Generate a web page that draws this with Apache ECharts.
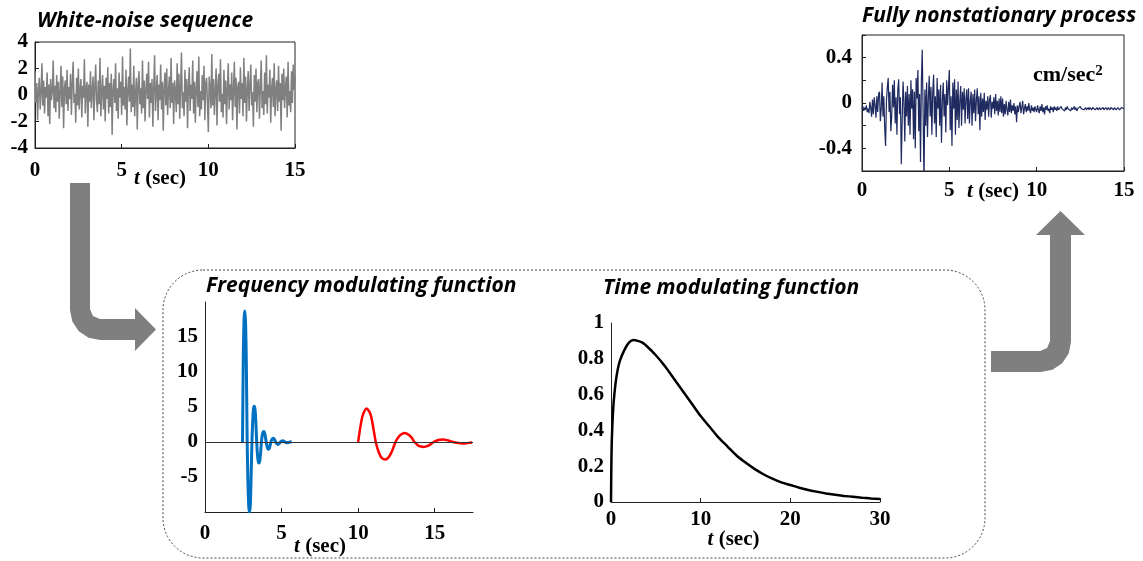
<!DOCTYPE html>
<html>
<head>
<meta charset="utf-8">
<title>Nonstationary process simulation</title>
<script src="https://cdn.jsdelivr.net/npm/echarts/dist/echarts.min.js"></script>
<style>
html, body { margin: 0; padding: 0; background: #fff; }
#main { width: 1143px; height: 561px; }
</style>
</head>
<body>
<div id="main"></div>
<script>
// white-noise sequence, sampled every 0.05 s (0 .. 15 s)
var noiseStep = 0.05;
var noiseValues = [
    1.8, -0.6, 0.9, -1.9, 0.4, 1.3, -1.1, 0.2, 2.4, -0.8, 1.1, -1.4, 0.6, -0.2, 1.7, -1.6, 0.8, -2.2, 1.2, -0.4,
    0.3, 2.6, -1.0, 0.7, -1.3, 1.5, -0.5, 1.0, -1.8, 0.2, 2.2, -0.9, 1.4, -2.5, 0.5, 1.1, -0.7, 1.9, -1.2, 0.6,
    -0.3, 1.6, -1.5, 0.9, 2.5, -0.6, 0.1, -2.1, 1.3, -0.8, 2.0, -1.1, 0.4, 1.2, -1.7, 0.7, -0.2, 2.7, -1.4, 0.5,
    1.0, -2.4, 0.8, -0.5, 1.8, -1.0, 0.3, 1.4, -1.9, 0.6, 2.3, -0.4, -1.3, 1.1, -0.7, 2.8, -1.6, 0.2, 1.5, -1.1,
    0.7, -2.0, 1.3, -0.3, 2.1, -1.4, 0.9, -0.9, 1.6, -3.0, 0.4, 1.2, -0.6, 2.4, -1.2, 0.5, -1.8, 1.7, -0.2, 1.0,
    -1.5, 2.9, -0.8, 0.6, -1.1, 1.9, -2.3, 0.3, 1.4, -0.5, 3.5, -1.3, 0.8, -0.9, 2.2, -1.6, 0.1, 1.3, -2.6, 0.7,
    1.8, -0.7, 0.5, -1.4, 2.6, -1.0, 1.1, -2.0, 0.4, 1.6, -0.3, 2.5, -1.7, 0.9, -0.6, 1.2, -2.4, 0.6, 3.0, -1.2,
    0.2, 1.5, -1.9, 0.8, -0.4, 2.3, -1.1, 1.0, -2.7, 0.5, 1.7, -0.8, 2.0, -1.5, 0.3, 1.4, -1.0, 2.8, -0.6, 0.9,
    -2.2, 1.1, 0.4, -1.3, 2.4, -0.7, 1.6, -1.8, 0.6, 3.2, -1.0, 0.2, -1.6, 1.9, -0.5, 1.2, -2.5, 0.7, 2.1, -1.2,
    0.8, -0.3, 2.6, -1.4, 1.0, -2.1, 0.5, 1.8, -0.9, 2.9, -1.6, 0.3, -1.1, 1.5, -0.4, 2.2, -1.9, 0.9, 1.3, -0.6,
    -2.8, 1.4, 0.6, -1.0, 3.1, -0.8, 1.2, -1.5, 0.4, 2.0, -2.3, 0.7, 1.6, -0.5, 2.7, -1.3, 0.1, -1.7, 1.9, -0.7,
    1.1, -2.2, 0.5, 2.4, -1.1, 0.8, -0.4, 1.7, -1.9, 0.3, 2.5, -0.9, 1.3, -2.6, 0.6, 1.0, -1.4, 2.1, -0.3, 0.9,
    -1.6, 2.8, -0.6, 1.4, -2.0, 0.4, 1.8, -1.2, 0.7, 2.3, -0.8, 0.2, -2.4, 1.5, -0.5, 2.0, -1.3, 0.9, 1.2, -1.8,
    0.6, 2.6, -1.0, 0.3, -1.5, 1.7, -0.7, 3.0, -1.4, 0.8, -0.2, 1.9, -2.1, 0.5, 1.3, -0.9, 2.4, -1.6, 0.4, 1.1,
    -1.2, 2.2, -0.5, 0.9, -2.7, 1.6, -0.4, 2.0, -1.0, 0.6, 1.4, -1.7, 2.5, -0.8, 0.3, -1.3, 1.8, -0.6, 2.3, 0.4, 1.5
];

// fully nonstationary process (cm/sec2), sampled every 0.05 s
var accStep = 0.05;
var accValues = [
    -0.05, -0.03, -0.07, -0.04, -0.06, -0.02, -0.08, -0.05, -0.09, 0.01, -0.04, -0.12, 0.03, -0.10, 0.05, -0.02, -0.13, 0.06, -0.08, 0.08,
    0.10, -0.16, -0.05, 0.18, -0.12, 0.06, -0.22, -0.38, 0.02, 0.14, 0.22, -0.08, 0.10, -0.25, -0.12, 0.16, -0.04, 0.20, -0.18, 0.05,
    -0.28, 0.12, 0.21, -0.10, 0.05, -0.54, -0.15, 0.19, 0.02, -0.34, 0.10, -0.12, 0.15, -0.20, 0.08, -0.28, 0.20, -0.05, 0.12, -0.32,
    0.10, -0.40, 0.22, 0.04, 0.29, -0.25, 0.08, -0.52, 0.20, 0.47, -0.10, -0.72, 0.12, -0.20, 0.18, -0.30, 0.05, 0.24, -0.12, 0.14,
    -0.28, 0.10, 0.25, -0.18, 0.06, -0.30, 0.22, -0.05, 0.12, -0.20, 0.16, -0.35, 0.02, 0.18, -0.12, 0.08, -0.26, 0.20, -0.02, 0.14,
    0.29, -0.24, 0.06, -0.38, 0.18, -0.05, 0.21, -0.28, 0.12, -0.15, 0.19, -0.22, 0.02, 0.15, -0.20, 0.10, -0.06, 0.13, -0.18, 0.04,
    0.12, -0.14, 0.13, -0.18, 0.02, 0.10, -0.20, 0.08, -0.09, 0.12, -0.16, 0.03, 0.13, -0.10, 0.06, -0.24, 0.09, -0.12, 0.04, -0.08,
    0.09, -0.15, 0.02, -0.06, 0.06, -0.12, 0.03, 0.07, -0.13, 0.01, -0.05, 0.05, -0.10, 0.08, -0.07, 0.02, -0.11, 0.04, -0.08, 0.06,
    -0.09, 0.04, -0.12, -0.01, -0.10, 0.02, -0.06, -0.11, 0.01, -0.08, 0.03, -0.09, -0.02, -0.07, 0.00, -0.10, -0.03, -0.17, -0.02, -0.08,
    -0.03, 0.01, -0.09, -0.04, 0.02, -0.10, -0.05, -0.01, -0.08, -0.03, -0.07, 0.00, -0.06, -0.09, -0.02, -0.07, -0.04, -0.08, -0.03, -0.06,
    -0.08, -0.02, -0.06, -0.09, -0.03, -0.07, -0.01, -0.08, -0.04, -0.10, -0.03, -0.06, -0.02, -0.07, -0.05, -0.09, -0.03, -0.06, -0.04, -0.08,
    -0.03, -0.06, -0.04, -0.07, -0.03, -0.06, -0.05, -0.07, -0.03, -0.05, -0.06, -0.04, -0.07, -0.04, -0.06, -0.03, -0.05, -0.06, -0.04, -0.07,
    -0.04, -0.06, -0.05, -0.03, -0.06, -0.04, -0.07, -0.05, -0.04, -0.06, -0.03, -0.05, -0.06, -0.04, -0.06, -0.05, -0.04, -0.06, -0.05, -0.04,
    -0.06, -0.04, -0.05, -0.06, -0.04, -0.05, -0.03, -0.06, -0.05, -0.04, -0.06, -0.05, -0.04, -0.06, -0.05, -0.05, -0.04, -0.06, -0.05, -0.04,
    -0.05, -0.06, -0.04, -0.05, -0.06, -0.04, -0.05, -0.05, -0.06, -0.04, -0.05, -0.06, -0.05, -0.04, -0.05, -0.06, -0.05, -0.04, -0.05, -0.05, -0.05
];
var accYLabels = ['-0.4', '0', '0.4'];

// frequency modulating function, short-period part (blue)
var freqBlueT = [2.45, 2.5, 2.55, 2.6, 2.65, 2.7, 2.755, 2.8, 2.86, 2.91, 2.96, 3.01, 3.065, 3.12, 3.17, 3.22, 3.27, 3.32,
    3.375, 3.43, 3.48, 3.53, 3.58, 3.63, 3.685, 3.74, 3.79, 3.84, 3.89, 3.94, 3.995, 4.05, 4.1, 4.15, 4.2, 4.25,
    4.305, 4.36, 4.41, 4.46, 4.51, 4.56, 4.615, 4.67, 4.72, 4.77, 4.82, 4.87, 4.925, 5.0, 5.08, 5.16, 5.235, 5.31,
    5.39, 5.47, 5.545, 5.66];
var freqBlueV = [0, 12, 17.5, 18.7, 17, 11, 0, -5.5, -9.3, -10, -9, -5, 0, 3.2, 4.8, 5.1, 4.6, 2.8,
    0, -1.9, -2.8, -3.0, -2.6, -1.6, 0, 1.0, 1.4, 1.5, 1.3, 0.8, 0, -0.6, -0.95, -1.05, -0.9, -0.5,
    0, 0.35, 0.5, 0.55, 0.45, 0.25, 0, -0.2, -0.3, -0.35, -0.28, -0.15, 0, 0.12, 0.18, 0.1, 0, -0.08,
    -0.1, -0.05, 0, 0.03];

// frequency modulating function, long-period part (red)
var freqRedT = [10.0, 10.15, 10.3, 10.55, 10.8, 11.0, 11.15, 11.35, 11.55, 11.8, 12.05, 12.25, 12.44, 12.65, 12.85,
    13.05, 13.3, 13.5, 13.68, 13.9, 14.1, 14.3, 14.55, 14.75, 14.93, 15.15, 15.35, 15.55, 15.8, 16.0, 16.2,
    16.45, 16.65, 16.85, 17.1, 17.3, 17.44];
var freqRedV = [0, 2.2, 3.8, 4.8, 4.0, 1.9, 0, -1.5, -2.3, -2.5, -2.0, -1.1, 0, 0.75, 1.15,
    1.3, 1.05, 0.6, 0, -0.45, -0.65, -0.7, -0.55, -0.3, 0, 0.22, 0.32, 0.35, 0.27, 0.14, 0,
    -0.12, -0.18, -0.2, -0.16, -0.1, -0.07];

// time modulating function
var timeModT = [0, 0.05, 0.1, 0.2, 0.3, 0.5, 0.75, 1, 1.5, 2, 2.5, 3, 3.5, 4, 5, 6, 7, 8, 9, 10, 11, 12, 13, 14, 15,
    16, 17, 18, 19, 20, 21, 22, 23, 24, 25, 26, 27, 28, 29, 30];
var timeModV = [0, 0.25, 0.36, 0.48, 0.56, 0.66, 0.74, 0.79, 0.85, 0.89, 0.905, 0.9, 0.89, 0.87, 0.82, 0.76, 0.69,
    0.62, 0.55, 0.48, 0.42, 0.36, 0.31, 0.26, 0.22, 0.185, 0.155, 0.13, 0.11, 0.095, 0.08, 0.067, 0.057, 0.048,
    0.04, 0.034, 0.029, 0.024, 0.02, 0.017];

function zip(ts, vs) {
    return ts.map(function (t, i) { return [t, vs[i]]; });
}
function sampled(step, vs) {
    return vs.map(function (v, i) { return [i * step, v]; });
}

var serif = '"Liberation Serif", "DejaVu Serif", serif';
var numFont = { fontFamily: serif, fontWeight: 'bold', fontSize: 21, color: '#000' };
var titleFont = { fontFamily: 'Open Sans', fontStyle: 'italic', fontWeight: 'bold', fontSize: 21, color: '#000' };

// tick labels drawn as rich text so the serif face is used
function numLabel(v) {
    var s = (Math.round(v * 10) / 10).toString();
    return '{n|' + s + '}';
}

function tName(gap, shift) {
    return {
        name: '{i|t} (sec)',
        nameLocation: 'middle',
        nameGap: gap,
        nameMoveOverlap: false,
        nameTextStyle: {
            fontFamily: serif, fontWeight: 'bold', fontSize: 21, color: '#000',
            padding: [0, shift, 0, 0],
            rich: { i: { fontFamily: serif, fontWeight: 'bold', fontStyle: 'italic', fontSize: 21, color: '#000' } }
        }
    };
}

function xAxisOf(grid, min, max, interval, margin, gap, shift) {
    return Object.assign({
        type: 'value',
        gridIndex: grid,
        min: min,
        max: max,
        interval: interval,
        axisLine: { show: true, onZero: false, lineStyle: { color: '#222', width: 1 } },
        axisTick: { show: true, inside: true, length: 4, lineStyle: { color: '#222' } },
        axisLabel: Object.assign({
            margin: margin, showMaxLabel: max % interval === 0,
            formatter: numLabel, rich: { n: numFont }
        }, numFont),
        splitLine: { show: false }
    }, tName(gap, shift));
}

function yAxisOf(grid, min, max, interval, margin, ticks) {
    return {
        type: 'value',
        gridIndex: grid,
        min: min,
        max: max,
        interval: interval,
        axisLine: { show: true, onZero: false, lineStyle: { color: '#222', width: 1 } },
        axisTick: { show: ticks, inside: true, length: 4, lineStyle: { color: '#222' } },
        axisLabel: Object.assign({ margin: margin, formatter: numLabel, rich: { n: numFont } }, numFont),
        splitLine: { show: false }
    };
}

var myChart = echarts.init(document.getElementById('main'));

var yAcc = yAxisOf(1, -0.6, 0.6, 0.2, 10, true);
yAcc.axisLabel.formatter = function (v) {
    var s = (Math.round(v * 10) / 10).toString();
    return accYLabels.indexOf(s) >= 0 ? '{n|' + s + '}' : '';
};
var yFreq = yAxisOf(2, -10, 20, 5, 7, false);
yFreq.axisLabel.showMinLabel = false;
yFreq.axisLabel.showMaxLabel = false;

var option = {
    animation: false,
    backgroundColor: '#fff',
    textStyle: { fontFamily: serif, fontWeight: 'bold', color: '#000' },
    title: [
        { text: 'White-noise sequence', left: 37, top: 11, padding: 0, textStyle: titleFont },
        { text: 'Fully nonstationary process', left: 862, top: 6, padding: 0, textStyle: titleFont },
        { text: 'Frequency modulating function', left: 206, top: 276, padding: 0, textStyle: titleFont },
        { text: 'Time modulating function', left: 603, top: 278, padding: 0, textStyle: titleFont }
    ],
    grid: [
        { left: 35, top: 42, width: 260, height: 106, show: true, borderColor: '#222', borderWidth: 1, outerBoundsMode: 'none' },
        { left: 862, top: 35, width: 262, height: 136, show: true, borderColor: '#222', borderWidth: 1, outerBoundsMode: 'none' },
        { left: 205, top: 302, width: 268, height: 210, outerBoundsMode: 'none' },
        { left: 611, top: 323, width: 269, height: 179, outerBoundsMode: 'none' }
    ],
    xAxis: [
        xAxisOf(0, 0, 15, 5, 12, 20, 10),
        xAxisOf(1, 0, 15, 5, 9, 10, 0),
        xAxisOf(2, 0, 17.5, 5, 11, 24, 38),
        xAxisOf(3, 0, 30, 10, 7, 27, 24)
    ],
    yAxis: [
        yAxisOf(0, -4, 4, 2, 7, true),
        yAcc,
        yFreq,
        yAxisOf(3, 0, 1, 0.2, 7, false)
    ],
    series: [
        {
            type: 'line', xAxisIndex: 0, yAxisIndex: 0,
            data: sampled(noiseStep, noiseValues),
            showSymbol: false,
            lineStyle: { color: '#808080', width: 1.5 }
        },
        {
            type: 'line', xAxisIndex: 1, yAxisIndex: 1,
            data: sampled(accStep, accValues),
            showSymbol: false,
            lineStyle: { color: '#1f2a60', width: 1.2 }
        },
        {
            type: 'line', xAxisIndex: 2, yAxisIndex: 2,
            data: zip(freqBlueT, freqBlueV),
            showSymbol: false, smooth: 0.3,
            lineStyle: { color: '#0070c0', width: 3 },
            markLine: {
                silent: true, symbol: 'none', label: { show: false },
                lineStyle: { color: '#333', width: 1, type: 'solid' },
                data: [{ yAxis: 0 }]
            }
        },
        {
            type: 'line', xAxisIndex: 2, yAxisIndex: 2,
            data: zip(freqRedT, freqRedV),
            showSymbol: false, smooth: 0.3,
            lineStyle: { color: '#ff0000', width: 2.5 }
        },
        {
            type: 'line', xAxisIndex: 3, yAxisIndex: 3,
            data: zip(timeModT, timeModV),
            showSymbol: false, smooth: 0.3,
            lineStyle: { color: '#000', width: 2.5 }
        }
    ],
    graphic: [
        {
            type: 'rect', z: -1,
            shape: { x: 163, y: 270, width: 822, height: 288, r: 40 },
            style: { fill: 'none', stroke: '#444', lineWidth: 1, lineDash: [2, 2] }
        },
        {
            type: 'polygon',
            shape: { points: [[70, 183], [90, 183], [90, 309], [92.9, 316.1], [100, 319], [135, 319], [135, 308],
                [156, 329.5], [135, 351], [135, 340], [100, 340], [88.5, 337.7], [78.8, 331.2], [72.3, 321.5], [70, 310]] },
            style: { fill: '#7f7f7f' }
        },
        {
            type: 'polygon',
            shape: { points: [[991, 351], [1040, 351], [1047.1, 348.1], [1050, 341], [1050, 235], [1036, 235],
                [1060.5, 211], [1085, 235], [1071, 235], [1071, 342], [1068.7, 353.5], [1062.2, 363.2],
                [1052.5, 369.7], [1041, 372], [991, 372]] },
            style: { fill: '#7f7f7f' }
        },
        {
            type: 'text', left: 1033, top: 64,
            style: {
                text: '{a|cm/sec}{s|2}',
                rich: {
                    a: { fontFamily: serif, fontWeight: 'bold', fontSize: 22, fill: '#000' },
                    s: { fontFamily: serif, fontWeight: 'bold', fontSize: 15, fill: '#000', verticalAlign: 'top' }
                }
            }
        }
    ]
};

myChart.setOption(option);
</script>
</body>
</html>
